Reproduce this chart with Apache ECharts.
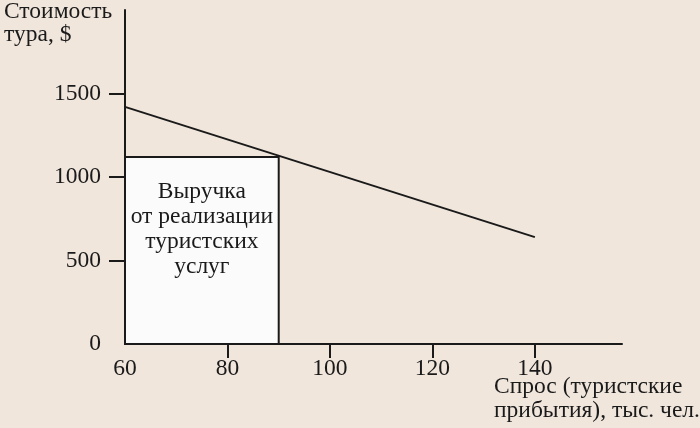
<!DOCTYPE html>
<html>
<head>
<meta charset="utf-8">
<script src="https://cdn.jsdelivr.net/npm/echarts@6/dist/echarts.min.js"></script>
<style>
html,body{margin:0;padding:0;background:#f0e6dc;}
#c{width:700px;height:428px;}
</style>
</head>
<body>
<div id="c"></div>
<script>
// Data
const demandX = [60, 140];
const demandPrice = [1420, 640];
const revenueX = [60, 90];
const revenuePrice = 1120;
const xTickValues = [80, 100, 120, 140];
const xLabelValues = [60, 80, 100, 120, 140];
const yTickValues = [500, 1000, 1500];
const yLabelValues = [0, 500, 1000, 1500];
const revenueLabel = 'Выручка\nот реализации\nтуристских\nуслуг';
const yTitle = 'Стоимость\nтура, $';
const xTitle = 'Спрос (туристские\nприбытия), тыс. чел.';

const FONT = '"Liberation Serif", "DejaVu Serif", serif';
const INK = '#1a1a1a';
const FS = 23.5;

const chart = echarts.init(document.getElementById('c'), null, {renderer: 'canvas'});
chart.setOption({
  backgroundColor: '#f0e6dc',
  animation: false,
  grid: {left: 125, right: 78, top: 10, bottom: 84},
  xAxis: {
    type: 'value', min: 60, max: 157, interval: 20,
    splitLine: {show: false},
    axisLine: {show: true, onZero: false, lineStyle: {color: INK, width: 2}},
    axisTick: {show: true, customValues: xTickValues, length: 14, lineStyle: {color: INK, width: 2}},
    axisLabel: {customValues: xLabelValues, margin: 13, color: INK, fontFamily: FONT, fontSize: FS,
      formatter: v => String(v)}
  },
  yAxis: {
    type: 'value', min: 0, max: 2000, interval: 500,
    splitLine: {show: false},
    axisLine: {show: true, onZero: false, lineStyle: {color: INK, width: 2}},
    axisTick: {show: true, customValues: yTickValues, length: 16, lineStyle: {color: INK, width: 2}},
    axisLabel: {customValues: yLabelValues, margin: 24, color: INK, fontFamily: FONT, fontSize: FS,
      formatter: v => String(v)}
  },
  graphic: [
    {type: 'text', left: 4, top: 0, style: {text: yTitle, fill: INK, font: FS + 'px ' + FONT, lineHeight: 23}},
    {type: 'text', left: 494, top: 375, style: {text: xTitle, fill: INK, font: FS + 'px ' + FONT, lineHeight: 24}}
  ],
  series: [{
    type: 'line',
    data: demandX.map((x, i) => [x, demandPrice[i]]),
    symbol: 'none',
    lineStyle: {color: INK, width: 2},
    z: 3,
    markArea: {
      silent: true,
      itemStyle: {color: '#fbfbfb', borderColor: INK, borderWidth: 2},
      label: {
        show: true, position: 'insideTop', distance: 23,
        color: INK, fontFamily: FONT, fontSize: FS, lineHeight: 25, align: 'center'
      },
      data: [[
        {name: revenueLabel, coord: [revenueX[0], 0]},
        {coord: [revenueX[1], revenuePrice]}
      ]]
    }
  }]
});
</script>
</body>
</html>
